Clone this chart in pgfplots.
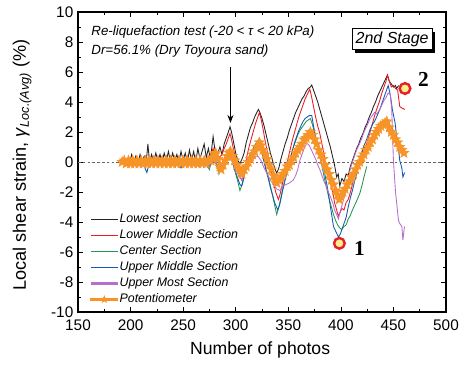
\documentclass[border=0pt]{standalone}
\usepackage{fontspec}
\setmainfont{Liberation Sans}
\newfontfamily\numfont{Liberation Serif}
\usepackage{pgfplots}
\pgfplotsset{compat=1.18}
\usepackage{pgfplotstable}
\usetikzlibrary{arrows.meta,shadows,plotmarks}

\definecolor{cLow}{RGB}{35,35,35}
\definecolor{cLowMid}{RGB}{237,28,36}
\definecolor{cCen}{RGB}{40,150,80}
\definecolor{cUpMid}{RGB}{20,90,180}
\definecolor{cUpMost}{RGB}{185,110,205}
\definecolor{cPot}{RGB}{247,148,40}
\definecolor{cDotFill}{RGB}{255,238,140}
\definecolor{cDotRing}{RGB}{230,30,40}

% filled five-pointed star
\pgfdeclareplotmark{fstar}{%
  \pgfpathmoveto{\pgfpointpolar{90}{\pgfplotmarksize}}%
  \pgfpathlineto{\pgfpointpolar{126}{0.42\pgfplotmarksize}}%
  \pgfpathlineto{\pgfpointpolar{162}{\pgfplotmarksize}}%
  \pgfpathlineto{\pgfpointpolar{198}{0.42\pgfplotmarksize}}%
  \pgfpathlineto{\pgfpointpolar{234}{\pgfplotmarksize}}%
  \pgfpathlineto{\pgfpointpolar{270}{0.42\pgfplotmarksize}}%
  \pgfpathlineto{\pgfpointpolar{306}{\pgfplotmarksize}}%
  \pgfpathlineto{\pgfpointpolar{342}{0.42\pgfplotmarksize}}%
  \pgfpathlineto{\pgfpointpolar{18}{\pgfplotmarksize}}%
  \pgfpathlineto{\pgfpointpolar{54}{0.42\pgfplotmarksize}}%
  \pgfpathclose
  \pgfusepathqfillstroke
}

% legend sample: a short coloured bar
\newcommand{\legbar}[2]{\fill[#1] (0cm,-#2) rectangle (0.7cm,#2);}

% Lowest section
\pgfplotstableread{
x y
195 0.0
197 0.2
199 -0.1
201 0.5
203 0.0
205 0.4
207 -0.1
209 0.5
211 0.0
213 0.4
215 0.1
216.5 1.2
218 0.0
220 0.5
222 0.0
224 0.6
226 0.1
228 0.5
230 0.0
232 0.6
234 0.1
236 0.7
238 0.0
240 0.6
242 0.1
244 0.5
246 0.0
248 0.7
250 0.1
252 0.6
254 0.0
256 0.8
258 0.1
260 0.7
262 0.0
264 0.9
266 0.2
268 0.7
270 1.2
272 0.3
274 0.9
276 0.2
278.5 1.7
281 0.4
283 0.6
285 1.0
287 0.5
289 1.2
291 1.6
293 2.0
294.6 2.35
296 2.0
298 1.3
300 0.6
302 0.1
304 -0.1
306 0.2
308 0.6
310 1.3
312 1.8
314 2.3
316 2.6
318 3.0
320 3.3
321.6 3.5
323 3.3
325 2.9
327 2.4
329 1.8
331 1.2
333 0.6
335 0.1
337 -0.4
339 -0.75
341 -0.4
343 0.2
345 0.7
347 1.2
349 1.6
351 2.1
353 2.5
355 2.9
357 3.3
359 3.6
361 3.9
363 4.2
365 4.4
367 4.7
369 4.9
371 5.0
372.3 5.13
374 4.8
376 4.4
378 4.0
380 3.5
382 3.0
384 2.5
386 2.0
388 1.5
390 1.0
392 0.4
394 -0.2
396 -1.0
397.5 -0.8
399 -1.6
401 -1.1
403 -1.3
405 -0.8
407 -0.9
409 -0.3
411 0.1
413 0.5
415 0.9
417 1.2
419 1.6
421 1.9
423 2.3
425 2.6
427 3.0
429 3.3
431 3.7
433 4.0
435 4.4
437 4.7
439 5.0
441 5.3
443 5.6
444.3 5.8
446 5.4
448 5.2
450 5.0
452 5.1
453 4.9
455 5.1
}\lowest

% Lower middle section
\pgfplotstableread{
x y
195 0.0
199 0.1
203 -0.1
207 0.1
211 0.0
215 0.2
219 0.0
223 0.1
227 -0.1
231 0.2
235 0.0
239 0.1
243 -0.1
247 0.2
251 0.0
255 0.1
259 -0.1
263 0.2
267 0.0
270 0.3
273 -0.1
276 0.4
278.5 0.9
281 0.1
284 0.3
287 0.5
289 0.9
291 1.2
293 1.6
294.6 1.9
296 1.5
298 0.8
300 0.2
302 -0.5
304 -1.0
305.7 -1.2
307 -0.9
309 -0.2
311 0.5
313 1.1
315 1.6
317 2.1
319 2.6
321 3.0
322.5 3.3
324 2.9
326 2.2
328 1.4
330 0.7
332 0.0
334 -0.7
336 -1.4
338 -2.0
340.6 -2.5
342 -2.2
344 -1.6
346 -0.9
348 -0.3
350 0.3
352 0.9
354 1.5
356 2.0
358 2.5
360 3.0
362 3.4
364 3.8
366 4.2
368 4.5
370.5 4.85
372 4.4
374 3.7
376 3.0
378 2.4
380 1.9
382 1.2
384 0.5
386 -0.2
388 -0.8
390 -1.4
392.6 -2.1
394 -2.7
396 -3.2
397.6 -3.6
399 -3.4
401 -3.1
403 -3.2
405 -2.7
407 -2.5
408.8 -2.1
411 -1.5
413 -0.9
415 -0.4
417 0.1
419 0.4
421 0.8
423 1.0
424.6 1.2
427 1.8
429 2.3
431 2.8
433 3.3
435 3.7
437 4.1
439 4.6
441 5.0
443 5.4
444.3 5.8
446 5.4
448 5.0
450 5.1
452 4.9
454 4.8
456 3.7
458 3.6
461 3.5
}\lowermid

% Center section
\pgfplotstableread{
x y
195 0.0
199 -0.1
203 0.0
207 -0.1
211 0.1
215 -0.1
219 0.0
223 -0.1
227 0.0
231 -0.1
235 0.1
239 -0.1
243 0.0
247 -0.2
251 0.0
255 -0.1
259 0.0
263 -0.1
267 0.1
270 -0.2
273 0.0
275 -0.5
277 0.1
280 0.3
282 -0.2
284 -0.8
286 -0.4
288 0.0
290 0.3
292 0.5
294.6 0.7
296 0.4
298 -0.2
300 -0.8
302 -1.3
304 -1.9
306 -1.5
308 -0.8
310 -0.3
312 0.2
314 0.5
316 0.8
318 1.1
320 1.3
321.6 1.5
323 1.2
325 0.7
327 0.1
329 -0.5
331 -1.0
333 -1.6
335 -2.2
337.4 -3.0
339 -3.5
341 -3.0
343 -2.4
345 -1.7
347 -1.1
349 -0.5
351 0.0
353 0.5
355 1.0
357 1.4
359 1.8
361 2.1
363 2.3
365 2.5
367 2.7
369 2.8
371 2.9
373 2.5
375 1.9
377 1.3
379 0.7
381 0.1
383 -0.6
385 -1.3
387 -1.9
389 -2.5
391 -3.0
393 -3.5
395 -3.9
397 -4.2
399 -4.4
400.8 -4.5
403 -4.3
405 -4.2
407 -3.8
408.8 -3.6
411 -3.2
413 -2.9
415 -2.6
418 -2.1
420 -1.6
422 -1.0
424.6 -0.3
}\centersec

% Upper middle section
\pgfplotstableread{
x y
195 0.0
198 -0.1
201 0.0
204 -0.2
207 0.0
210 -0.1
213 -0.3
215.5 -0.7
218 0.0
221 -0.1
224 0.0
227 -0.2
230 0.0
233 -0.1
236 0.0
239 -0.2
242 0.0
245 -0.1
248 -0.4
250 0.0
253 -0.1
256 0.0
259 -0.2
262 0.0
265 -0.3
268 0.0
271 -0.1
274 -0.4
277 0.0
280 0.2
282 -0.3
284 -0.6
286 -0.2
288 0.1
290 0.3
292 0.4
294.6 0.5
296 0.2
298 -0.3
300 -0.7
302 -1.1
304 -1.5
305.7 -1.6
307 -1.3
309 -0.6
311 0.0
313 0.4
315 0.7
317 0.9
319 1.2
321.6 1.4
323 1.1
325 0.6
327 0.0
329 -0.6
331 -1.1
333 -1.7
335 -2.2
337 -2.7
340 -3.2
342 -2.8
344 -2.1
346 -1.5
348 -0.9
350 -0.3
352 0.3
354 0.8
356 1.3
358 1.7
360 2.1
362 2.4
364 2.7
366 2.9
368 3.0
370 3.1
372.3 3.1
374 2.4
376 1.7
378 1.0
380 0.4
382 -0.1
383.4 -0.3
385 -0.9
387 -1.6
389 -2.5
391 -3.4
393 -4.3
395 -4.6
397.7 -5.0
399.5 -4.8
401 -4.5
403 -4.1
405 -3.7
407 -3.0
409 -2.4
411 -1.9
413 -1.3
415 -0.8
418 0.1
420 0.7
422 1.1
424 1.4
426 1.8
428 2.2
430 2.5
432 2.7
434 3.0
437 3.5
439 3.9
441 4.3
443 4.7
445 5.1
447 4.5
449 3.5
451.6 2.6
453 1.7
455 0.8
456 0.1
458 -0.4
459 -1.0
460.7 -0.7
}\uppermid

% Upper most section
\pgfplotstableread{
x y
195 0.0
200 0.0
205 -0.1
210 0.0
215 0.0
220 -0.1
225 0.0
230 0.1
235 0.0
240 -0.1
245 0.0
250 0.0
255 -0.1
260 0.0
265 0.1
270 0.0
275 -0.2
280 0.1
284 -0.3
288 0.0
292 0.3
294.6 0.4
297 0.0
300 -0.5
303 -0.9
305.7 -1.2
308 -0.7
311 -0.2
314 0.1
317 0.2
319 0.4
321.6 0.35
324 0.1
327 -0.4
330 -0.8
333 -1.2
336 -1.5
339 -1.8
342 -1.9
345 -1.6
348 -1.5
351 -1.4
354.8 -1.2
357 -0.9
359 -0.5
361 0.1
363 0.5
365 0.9
367.6 1.25
370 1.1
372 0.8
374 0.5
376 0.2
378 -0.2
380 -0.5
382 -0.9
384 -1.3
386 -1.6
388 -2.0
390 -2.3
392.6 -2.8
394 -3.2
396 -3.5
397.7 -3.8
399 -3.4
401 -2.9
403 -2.4
405 -1.8
407 -1.2
408.8 -0.5
411 0.0
413 0.4
415 0.8
418 1.25
420 1.6
422 2.0
424 2.3
426 2.6
427.8 2.9
430 3.1
432 3.3
434 3.2
437 3.5
439 3.8
441 4.1
443 4.3
445 4.6
447 4.5
448.4 3.5
450 0.1
452 -2.0
454.8 -3.9
456 -4.1
458 -4.3
459 -5.2
460.5 -4.3
}\uppermost

% Potentiometer
\pgfplotstableread{
x y
192 0.0
194 0.1
196 -0.1
198 0.1
200 -0.1
202 0.1
204 -0.1
206 0.1
208 -0.1
210 0.1
212 -0.1
214 0.1
216 -0.1
218 0.1
220 -0.1
222 0.1
224 -0.1
226 0.1
228 -0.1
230 0.1
232 -0.1
234 0.1
236 -0.1
238 0.1
240 -0.1
242 0.1
244 -0.1
246 0.1
248 -0.1
250 0.1
252 -0.1
254 0.1
256 -0.1
258 0.1
260 -0.1
262 0.1
264 -0.1
266 0.1
268 -0.1
270 0.1
272 -0.1
274 0.1
276 0.1
278 0.3
280 0.5
281 0.6
283 0.2
285 -0.3
286 -0.5
288 -0.2
290 0.1
292 0.4
294 0.6
295 0.7
297 0.4
299 0.1
301 -0.2
303 -0.4
305 -0.7
306 -0.8
308 -0.5
310 -0.3
312 0.0
314 0.2
316 0.5
318 0.7
320 1.0
322.5 1.3
324 1.1
326 0.8
328 0.5
330 0.2
332 -0.2
334 -0.5
336 -0.9
338 -1.2
339 -1.4
341 -1.2
343 -1.0
345 -0.8
347 -0.6
349 -0.3
351 -0.2
353 0.1
355 0.3
357 0.6
359 0.8
361 1.0
363 1.2
365 1.5
367 1.6
369 1.8
371 2.0
373 1.8
375 1.5
377 1.2
379 0.8
381 0.5
383 0.2
385 -0.2
387 -0.5
389 -0.8
391 -1.2
393 -1.5
395 -1.9
397 -2.2
398.5 -2.5
400 -2.3
402 -2.0
404 -1.8
406 -1.5
408 -1.3
410 -1.0
412 -0.8
414 -0.5
416 -0.2
418 0.0
420 0.3
422 0.5
424 0.8
426 1.0
428 1.3
430 1.5
432 1.8
434 2.0
436 2.2
438 2.4
440 2.5
442 2.6
443.7 2.7
446 2.3
448 2.0
450 1.8
452 1.5
454 1.3
456 1.0
458 0.8
460 0.6
}\pot

\begin{document}
\begin{tikzpicture}
\begin{axis}[
  scale only axis,
  width=276pt, height=225pt,
  xmin=150, xmax=500, ymin=-10, ymax=10,
  xtick={150,200,...,500}, ytick={-10,-8,...,10},
  minor x tick num=1, minor y tick num=1,
  xtick pos=both, ytick pos=both,
  tick align=inside,
  major tick length=4pt, minor tick length=2.2pt,
  every tick/.style={black, line width=0.5pt},
  axis line style={line width=0.8pt},
  /pgf/number format/assume math mode=true,
  tick label style={font=\fontsize{11.5}{13}\selectfont},
  xticklabel style={yshift=-2.5pt},
  xlabel={Number of photos},
  ylabel={Local shear strain, \textit{γ}\textsubscript{\textit{Loc.(Avg)}} (\%)},
  xlabel style={font=\fontsize{13.2}{15}\selectfont, at={(axis description cs:0.495,-0.127)}, anchor=center},
  ylabel style={font=\fontsize{13.6}{15}\selectfont, at={(axis description cs:-0.152,0.49)}, anchor=center},
  clip=false,
  legend cell align=left,
  legend style={
    at={(axis description cs:0.022,0.345)}, anchor=north west,
    draw=none, fill=none,
    font=\itshape\fontsize{9.3}{11}\selectfont,
    nodes={text height=7.6pt, text depth=2.4pt, inner sep=1pt},
    row sep=0pt,
  },
]
\addplot[forget plot, gray!80!black, line width=0.6pt, dash pattern=on 2pt off 1.6pt]
  coordinates {(150,0) (500,0)};

\addplot[cLow, line width=0.65pt, legend image code/.code={\legbar{cLow}{0.3pt}}]
  table {\lowest};
\addlegendentry{Lowest section}
\addplot[cLowMid, line width=0.65pt, legend image code/.code={\legbar{cLowMid}{0.3pt}}]
  table {\lowermid};
\addlegendentry{Lower Middle Section}
\addplot[cCen, line width=0.65pt, legend image code/.code={\legbar{cCen}{0.3pt}}]
  table {\centersec};
\addlegendentry{Center Section}
\addplot[cUpMid, line width=0.65pt, legend image code/.code={\legbar{cUpMid}{0.3pt}}]
  table {\uppermid};
\addlegendentry{Upper Middle Section}
\addplot[cUpMost, line width=0.65pt, legend image code/.code={\legbar{cUpMost}{0.45pt}}]
  table {\uppermost};
\addlegendentry{Upper Most Section}
\addplot[cPot, line width=1pt, mark=fstar, mark size=4.1pt,
  mark options={fill=cPot, draw=cPot, line width=0.3pt},
  legend image code/.code={
    \legbar{cPot}{0.3pt}
    \fill[cPot] plot[mark=fstar, mark size=2.8pt] coordinates {(0.35cm,0cm)};
  }] table {\pot};
\addlegendentry{Potentiometer}

% selected photo instants
\addplot[forget plot, only marks, mark=*, mark size=4pt,
  mark options={fill=cDotFill, draw=cDotRing, line width=1.8pt}]
  coordinates {(398.6,-5.42) (461,4.9)};

\node[font=\numfont\bfseries\fontsize{16}{18}\selectfont] at (axis cs:417.8,-5.78) {1};
\node[font=\numfont\bfseries\fontsize{16}{18}\selectfont] at (axis cs:478.5,5.5) {2};

\draw[-{Stealth[length=6pt,width=4.5pt]}, line width=0.7pt] (axis cs:295,6.35) -- (axis cs:295,2.6);

\node[anchor=west, font=\itshape\fontsize{10}{12}\selectfont, inner sep=0pt]
  at (axis cs:162.5,8.67) {Re-liquefaction test (-20 < \textit{τ} < 20 kPa)};
\node[anchor=west, font=\itshape\fontsize{10}{12}\selectfont, inner sep=0pt]
  at (axis cs:162.5,7.4) {Dr=56.1\% (Dry Toyoura sand)};

\node[draw=black, line width=0.6pt, fill=white, inner xsep=2.6pt, inner ysep=2.2pt,
  font=\itshape\fontsize{12}{14}\selectfont,
  drop shadow={shadow xshift=2.4pt, shadow yshift=-2.4pt, fill=black, opacity=1}]
  at (axis cs:448.8,8.2) {2nd Stage};

\coordinate (bl) at (rel axis cs:0,0);
\coordinate (tr) at (rel axis cs:1,1);
\end{axis}
\path ([shift={(-58.5pt,-55.5pt)}]bl) rectangle ([shift={(13.5pt,9pt)}]tr);
\end{tikzpicture}
\end{document}
